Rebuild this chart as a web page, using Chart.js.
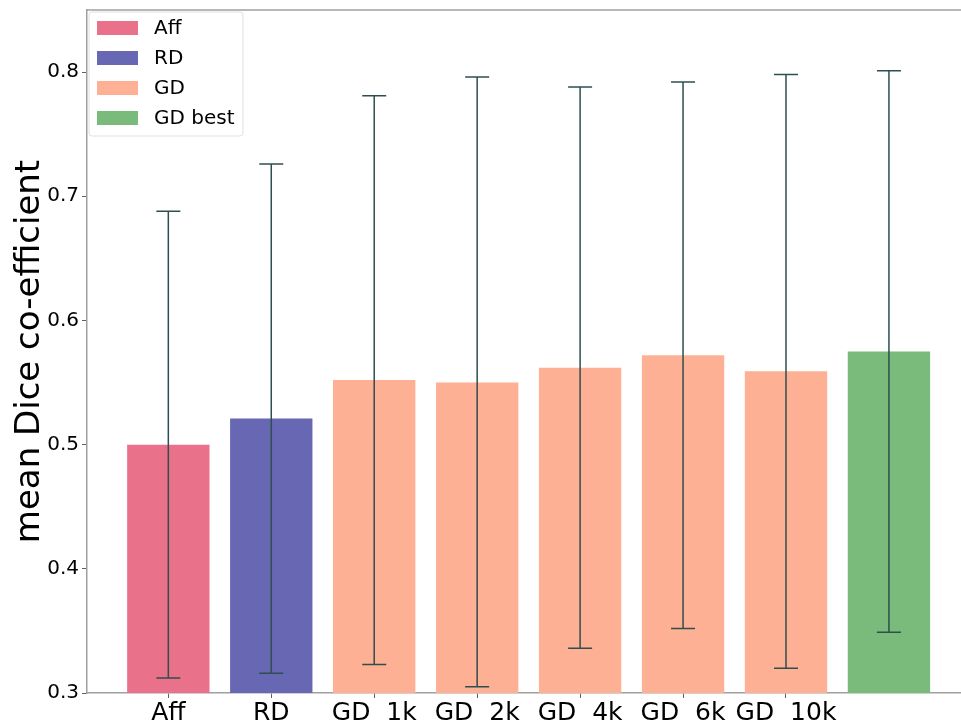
<!DOCTYPE html>
<html>
<head>
<meta charset="utf-8">
<script src="https://cdn.jsdelivr.net/npm/chart.js@4"></script>
<style>
  body { margin: 0; background: #fff; overflow: hidden; }
</style>
</head>
<body>
<canvas id="diceChart" width="961" height="724"></canvas>
<script>
// bar labels (last bar has no tick label in the figure)
const categories = ['Aff', 'RD', 'GD  1k', 'GD  2k', 'GD  4k', 'GD  6k', 'GD  10k', ''];
const meanDice = [0.500, 0.521, 0.552, 0.550, 0.562, 0.572, 0.559, 0.575];
const errLow = [0.312, 0.316, 0.323, 0.305, 0.336, 0.352, 0.320, 0.349];
const errHigh = [0.688, 0.726, 0.781, 0.796, 0.788, 0.792, 0.798, 0.801];
const barColors = ['#e9718a', '#6767b3', '#fdb093', '#fdb093', '#fdb093', '#fdb093', '#fdb093', '#7aba7a'];
const legendLabels = ['Aff', 'RD', 'GD', 'GD best'];
const legendColors = ['#e9718a', '#6767b3', '#fdb093', '#7aba7a'];
const yTicks = [0.3, 0.4, 0.5, 0.6, 0.7, 0.8];

const FONT = 'DejaVu Sans';

const errorBars = {
    id: 'errorBars',
    afterDatasetsDraw(chart) {
        const ctx = chart.ctx;
        const xs = chart.scales.x, ys = chart.scales.y;
        ctx.save();
        ctx.strokeStyle = '#2f4f4f';
        ctx.lineWidth = 1.5;
        for (let i = 0; i < meanDice.length; i++) {
            const x = xs.getPixelForValue(i);
            const lo = ys.getPixelForValue(errLow[i]);
            const hi = ys.getPixelForValue(errHigh[i]);
            ctx.beginPath();
            ctx.moveTo(x, lo); ctx.lineTo(x, hi);
            ctx.moveTo(x - 12, lo); ctx.lineTo(x + 12, lo);
            ctx.moveTo(x - 12, hi); ctx.lineTo(x + 12, hi);
            ctx.stroke();
        }
        ctx.restore();
    }
};

const frameAndLegend = {
    id: 'frameAndLegend',
    afterDraw(chart) {
        const ctx = chart.ctx;
        const a = chart.chartArea;
        ctx.save();
        // top spine
        ctx.strokeStyle = '#a0a0a0';
        ctx.lineWidth = 1.5;
        ctx.beginPath();
        ctx.moveTo(a.left, a.top); ctx.lineTo(a.right, a.top);
        ctx.stroke();

        // legend box
        const bx = a.left + 2, by = a.top + 2, bw = 154, bh = 124;
        ctx.fillStyle = 'rgba(255,255,255,0.8)';
        ctx.strokeStyle = '#e0e0e0';
        ctx.lineWidth = 1;
        ctx.beginPath();
        ctx.roundRect(bx, by, bw, bh, 3);
        ctx.fill();
        ctx.stroke();
        ctx.font = '20px "' + FONT + '"';
        ctx.textBaseline = 'middle';
        ctx.textAlign = 'left';
        legendLabels.forEach((lab, i) => {
            const cy = by + 16 + i * 30;
            ctx.fillStyle = legendColors[i];
            ctx.fillRect(bx + 8, cy - 7, 41, 14);
            ctx.fillStyle = '#000';
            ctx.fillText(lab, bx + 65, cy + 1);
        });
        ctx.restore();
    }
};

new Chart(document.getElementById('diceChart'), {
    type: 'bar',
    data: {
        datasets: [{
            data: meanDice.map((v, i) => ({ x: i, y: v })),
            backgroundColor: barColors,
            borderWidth: 0,
            barPercentage: 0.8,
            categoryPercentage: 1.0
        }]
    },
    options: {
        responsive: false,
        animation: false,
        layout: { padding: { top: 10, right: 0, left: 0, bottom: 0 } },
        plugins: { legend: { display: false }, tooltip: { enabled: false } },
        scales: {
            x: {
                type: 'linear',
                offset: false,
                min: -0.79,
                max: 7.70,
                afterBuildTicks(scale) {
                    scale.ticks = categories.slice(0, 7).map((c, i) => ({ value: i }));
                },
                afterFit(scale) { scale.height = 31; },
                ticks: {
                    callback: (v) => categories[v],
                    color: '#000',
                    font: { family: FONT, size: 25 },
                    padding: 0,
                    maxRotation: 0,
                    autoSkip: false
                },
                grid: { offset: false, drawOnChartArea: false, tickLength: 5, color: '#606060', tickWidth: 1 },
                border: { color: '#a0a0a0', width: 1.5 }
            },
            y: {
                min: 0.3,
                max: 0.85,
                afterBuildTicks(scale) {
                    scale.ticks = yTicks.map(v => ({ value: v }));
                },
                afterFit(scale) { scale.width = 87; },
                ticks: {
                    callback: (v) => v.toFixed(1),
                    color: '#000',
                    font: { family: FONT, size: 20, lineHeight: 0.6 },
                    padding: 3
                },
                grid: { drawOnChartArea: false, tickLength: 5, color: '#606060', tickWidth: 1 },
                border: { color: '#a0a0a0', width: 1.5 },
                title: {
                    display: true,
                    text: 'mean Dice co-efficient',
                    color: '#000',
                    font: { family: FONT, size: 34 },
                    padding: { top: 10, bottom: 0 }
                }
            }
        }
    },
    plugins: [errorBars, frameAndLegend]
});
</script>
</body>
</html>
